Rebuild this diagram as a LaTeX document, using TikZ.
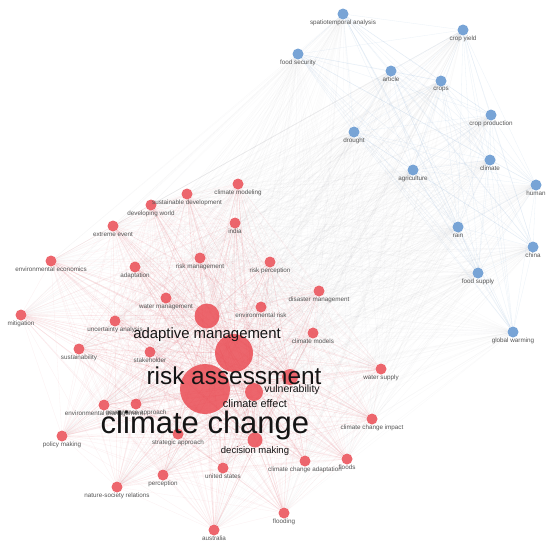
\documentclass[tikz,border=0pt]{standalone}
\usepackage{fontspec}
\setmainfont{Liberation Sans}
\definecolor{nodered}{RGB}{234,76,84}
\definecolor{nodeblue}{RGB}{106,155,210}
\definecolor{edgered}{RGB}{235,115,125}
\definecolor{edgeblue}{RGB}{160,192,225}
\definecolor{edgegray}{RGB}{150,150,160}
\definecolor{labgray}{RGB}{85,85,85}
\pgfdeclarelayer{bg}
\pgfdeclarelayer{fg}
\pgfsetlayers{bg,main,fg}
\tikzset{
  rn/.style={circle, inner sep=0pt, minimum size=11pt, fill=nodered, fill opacity=0.85, draw=none},
  bn/.style={circle, inner sep=0pt, minimum size=11pt, fill=nodeblue, fill opacity=0.9, draw=none},
  lab/.style={font=\fontsize{6.3}{7}\selectfont, text=labgray, inner sep=0pt, anchor=north, yshift=-0.5pt},
  biglab/.style={text=black!92, inner sep=0pt},
  redge/.style={draw=edgered, line width=0.3pt, opacity=0.1},
  hedge/.style={draw=edgered, line width=0.35pt, opacity=0.14},
  bedge/.style={draw=edgeblue, line width=0.3pt, opacity=0.22},
  xedge/.style={draw=edgegray, line width=0.3pt, opacity=0.06}
}
\def\redlist{cm,sd,dw,ind,ee,ec,ad,rm,rp,wm,dm,er,mi,ua,cmo,su,st,ws,em,ga,sta,pm,cci,cca,fl,us,pe,ns,fd,au,am,ras,cc,ce,vu,dmk}
\def\bluelist{sa,cy,fs,ar,cr,cp,dr,cli,ag,hu,rai,chi,fsu,gw}
\begin{document}
\begin{tikzpicture}[x=1pt,y=-1pt]
\useasboundingbox (0,0) rectangle (550,554);
% blue cluster
\foreach \n/\x/\y/\t in {
  sa/343/14/spatiotemporal analysis, cy/463/30/crop yield, fs/298/54/food security,
  ar/391/71/article, cr/441/81/crops, cp/491/115/crop production, dr/354/132/drought,
  cli/490/160/climate, ag/413/170/agriculture, hu/536/185/human, rai/458/227/rain,
  chi/533/247/china, fsu/478/273/food supply, gw/513/332/global warming} {
  \node[bn] (\n) at (\x,\y) {};
  \begin{pgfonlayer}{fg}\node[lab] (\n-l) at (\n.south) {\t};\end{pgfonlayer}
}
% red cluster
\foreach \n/\x/\y/\t in {
  cm/238/184/climate modeling, sd/187/194/sustainable development, dw/151/205/developing world,
  ind/235/223/india, ee/113/226/extreme event, ec/51/261/environmental economics,
  ad/135/267/adaptation, rm/200/258/risk management, rp/270/262/risk perception,
  wm/166/298/water management, dm/319/291/disaster management, er/261/307/environmental risk,
  mi/21/315/mitigation, ua/115/321/uncertainty analysis, cmo/313/333/climate models,
  su/79/349/sustainability, st/150/352/stakeholder, ws/381/369/water supply,
  em/104/405/environmental management, ga/136/404/governance approach,
  sta/178/434/strategic approach, pm/62/436/policy making, cci/372/419/climate change impact,
  cca/305/461/climate change adaptation, fl/347/459/floods, us/223/468/united states,
  pe/163/475/perception, ns/117/487/nature-society relations, fd/284/513/flooding,
  au/214/530/australia} {
  \node[rn] (\n) at (\x,\y) {};
  \begin{pgfonlayer}{fg}\node[lab] (\n-l) at (\n.south) {\t};\end{pgfonlayer}
}
% hubs
\node[rn, minimum size=25pt] (am) at (207,316) {};
\node[rn, minimum size=38pt] (ras) at (234,353) {};
\node[rn, minimum size=50pt] (cc) at (205,389) {};
\node[rn, minimum size=18pt] (ce) at (254,392) {};
\node[rn, minimum size=16pt] (vu) at (290,377) {};
\node[rn, minimum size=15pt] (dmk) at (255,440) {};
\begin{pgfonlayer}{fg}
\node[biglab, font=\fontsize{14.9}{15}\selectfont] (am-l) at (207,335) {adaptive management};
\node[biglab, font=\fontsize{24.4}{25}\selectfont] (ras-l) at (234,375.5) {risk assessment};
\node[biglab, font=\fontsize{31}{31}\selectfont] (cc-l) at (205,425) {climate change};
\node[biglab, font=\fontsize{10.9}{11}\selectfont] (ce-l) at (255,404) {climate effect};
\node[biglab, font=\fontsize{10.5}{11}\selectfont] (vu-l) at (292,390) {vulnerability};
\node[biglab, font=\fontsize{9.5}{10}\selectfont] (dmk-l) at (255,451) {decision making};
\end{pgfonlayer}
% edges
\begin{pgfonlayer}{bg}
\fill[white] (0,0) rectangle (550,554);
\foreach \a in \bluelist {
  \foreach \b in \redlist { \draw[xedge] (\a) -- (\b); }
}
\foreach \a [count=\i] in \redlist {
  \foreach \b [count=\j] in \redlist {
    \ifnum\j>\i \draw[redge] (\a) -- (\b); \fi
  }
}
\foreach \a in {am,ras,cc,ce,vu,dmk} {
  \foreach \b in \redlist { \draw[hedge] (\a) -- (\b); }
}
\foreach \a [count=\i] in \bluelist {
  \foreach \b [count=\j] in \bluelist {
    \ifnum\j>\i \draw[bedge] (\a) -- (\b); \fi
  }
}
\end{pgfonlayer}
\end{tikzpicture}
\end{document}
